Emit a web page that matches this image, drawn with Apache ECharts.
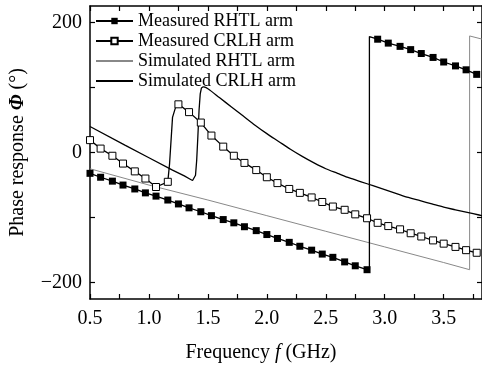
<!DOCTYPE html>
<html>
<head>
<meta charset="utf-8">
<script src="https://cdn.jsdelivr.net/npm/echarts@6/dist/echarts.min.js"></script>
<style>
  html, body { margin: 0; padding: 0; background: #fff; }
  #chart { width: 482px; height: 369px; }
</style>
</head>
<body>
<div id="chart"></div>
<script>
// measured points (markers), GHz
const freqMeas = [0.50,0.59,0.69,0.78,0.88,0.97,1.06,1.16,1.25,1.34,1.44,1.53,1.63,1.72,1.81,1.91,2.00,2.09,
                  2.19,2.28,2.38,2.47,2.56,2.66,2.75,2.85,2.94,3.03,3.13,3.22,3.31,3.41,3.50,3.60,3.69,3.78];
const rhtlMeas = [-32,-38,-44,-50,-56,-62,-67,-73,-79,-85,-91,-97,-103,-108,-114,-120,-126,-132,
                  -138,-144,-150,-156,-161,-168,-174,-180,174,168,163,158,152,146,139,133,127,120];
const crlhMeas = [19,6,-5,-17,-29,-40,-53,-45,74,62,46,26,9,-5,-16,-27,-38,-47,
                  -56,-62,-69,-76,-83,-88,-95,-101,-108,-113,-118,-124,-129,-135,-140,-145,-150,-154];
// extra unmarked points of measured traces (phase wrap, steep rise)
const rhtlWrapF = [2.87, 2.87];
const rhtlWrapV = [-180, 178];
const crlhRiseF = [1.175, 1.20, 1.225];
const crlhRiseV = [-17, 54, 69];

// simulated traces
const freqSimR = [0.5,1.0,1.5,2.0,2.5,3.0,3.5,3.72,3.72,3.85];
const simR = [-25,-50,-73,-97,-121,-145,-169,-180,179,173];
// simulated CRLH: linear part + resonance jump, then the slow decay
const freqSimC1 = [0.5,0.8,1.0,1.2,1.3,1.35,1.37,1.385,1.395,1.405,1.415,1.425,1.435,1.445,1.46];
const simC1 = [40,11,-8,-27,-36,-41,-43,-42,-35,-12,25,65,90,99,101];
const freqSimC2 = [1.46,1.5,1.6,1.7,1.8,1.9,2.0,2.1,2.2,2.3,2.4,2.5,2.6,2.7,2.8,2.9,
                   3.0,3.1,3.2,3.3,3.4,3.5,3.6,3.7,3.8,3.85];
const simC2 = [101,98,84,70,56,42,29,17,5,-6,-16,-25,-32,-39,-45,-51,
               -57,-63,-69,-74,-79,-84,-88,-92,-96,-98];

const xLabels = [0.5,1.0,1.5,2.0,2.5,3.0,3.5];
const xTicks = [0.5,0.75,1.0,1.25,1.5,1.75,2.0,2.25,2.5,2.75,3.0,3.25,3.5,3.75];
const yLabels = [-200,0,200];
const yTicks = [-200,-100,0,100,200];

const FONT = 'Liberation Serif';

function measData(vals, extraF, extraV) {
  let pts = freqMeas.map((f, i) => ({ value: [f, vals[i]] }));
  extraF.forEach((f, i) => pts.push({ value: [f, extraV[i]], symbol: 'none' }));
  return pts.sort((a, b) => a.value[0] - b.value[0]);
}
function zip(fs, vs) { return fs.map((f, i) => [f, vs[i]]); }

const axisCommon = {
  axisLine: { show: true, onZero: false, lineStyle: { color: '#000', width: 1.5 } },
  axisTick: { show: true, inside: true, length: 5, lineStyle: { color: '#000', width: 1.2 } },
  splitLine: { show: false }
};

let chart = echarts.init(document.getElementById('chart'));
let option = {
  animation: false,
  textStyle: { fontFamily: FONT },
  grid: { left: 86, top: 6, width: 399, height: 293 },
  legend: {
    left: 95, top: 11, orient: 'vertical', padding: 0,
    itemWidth: 37, itemHeight: 8, itemGap: 0,
    textStyle: { fontFamily: FONT, fontSize: 18, lineHeight: 20, color: '#000' },
    data: ['Measured RHTL arm', 'Measured CRLH arm', 'Simulated RHTL arm', 'Simulated CRLH arm']
  },
  xAxis: [
    Object.assign({}, axisCommon, {
      type: 'value', min: 0.5, max: 3.825, position: 'bottom',
      axisTick: Object.assign({}, axisCommon.axisTick, { customValues: xTicks }),
      axisLabel: { customValues: xLabels, formatter: v => v.toFixed(1), margin: 10,
                   fontFamily: FONT, fontSize: 20, color: '#000' },
      name: 'Frequency {i|f} (GHz)', nameLocation: 'middle', nameGap: 44,
      nameTextStyle: { fontFamily: FONT, fontSize: 20, color: '#000', padding: [0, 50, 0, 0],
                       rich: { i: { fontFamily: FONT, fontSize: 20, fontStyle: 'italic' } } }
    }),
    Object.assign({}, axisCommon, {
      type: 'value', min: 0.5, max: 3.825, position: 'top',
      axisTick: Object.assign({}, axisCommon.axisTick, { customValues: xTicks }),
      axisLabel: { show: false }
    })
  ],
  yAxis: [
    Object.assign({}, axisCommon, {
      type: 'value', min: -225, max: 225, position: 'left',
      axisTick: Object.assign({}, axisCommon.axisTick, { customValues: yTicks }),
      axisLabel: { customValues: yLabels, formatter: v => (v < 0 ? '\u2212' + (-v) : '' + v), margin: 8,
                   fontFamily: FONT, fontSize: 20, color: '#000' },
      name: 'Phase response {b|\u03A6} (\u00B0)', nameLocation: 'middle', nameGap: 62, nameRotate: 90,
      nameTextStyle: { fontFamily: FONT, fontSize: 20, color: '#000',
                       rich: { b: { fontFamily: FONT, fontSize: 20, fontStyle: 'italic', fontWeight: 'bold' } } }
    }),
    Object.assign({}, axisCommon, {
      type: 'value', min: -225, max: 225, position: 'right',
      axisTick: Object.assign({}, axisCommon.axisTick, { customValues: yTicks }),
      axisLabel: { show: false }
    })
  ],
  series: [
    {
      name: 'Measured RHTL arm', type: 'line', data: measData(rhtlMeas, rhtlWrapF, rhtlWrapV),
      symbol: 'rect', symbolSize: 7, showAllSymbol: true, z: 5,
      lineStyle: { color: '#000', width: 1.3 },
      itemStyle: { color: '#000', borderColor: '#000', borderWidth: 0 }
    },
    {
      name: 'Measured CRLH arm', type: 'line', data: measData(crlhMeas, crlhRiseF, crlhRiseV),
      symbol: 'rect', symbolSize: 7, showAllSymbol: true, z: 5,
      lineStyle: { color: '#000', width: 1.3 },
      itemStyle: { color: '#fff', borderColor: '#000', borderWidth: 1 }
    },
    {
      name: 'Simulated RHTL arm', type: 'line', data: zip(freqSimR, simR), symbol: 'none',
      lineStyle: { color: '#888', width: 1 },
      itemStyle: { color: 'rgba(0,0,0,0)', borderWidth: 0 }
    },
    {
      name: 'Simulated CRLH arm', type: 'line', data: zip(freqSimC1, simC1), symbol: 'none',
      lineStyle: { color: '#000', width: 1.3 },
      itemStyle: { color: 'rgba(0,0,0,0)', borderWidth: 0 }
    },
    {
      name: 'Simulated CRLH arm', type: 'line', data: zip(freqSimC2, simC2), symbol: 'none',
      smooth: 0.3,
      lineStyle: { color: '#000', width: 1.3 },
      itemStyle: { color: 'rgba(0,0,0,0)', borderWidth: 0 }
    }
  ]
};
chart.setOption(option);
</script>
</body>
</html>
